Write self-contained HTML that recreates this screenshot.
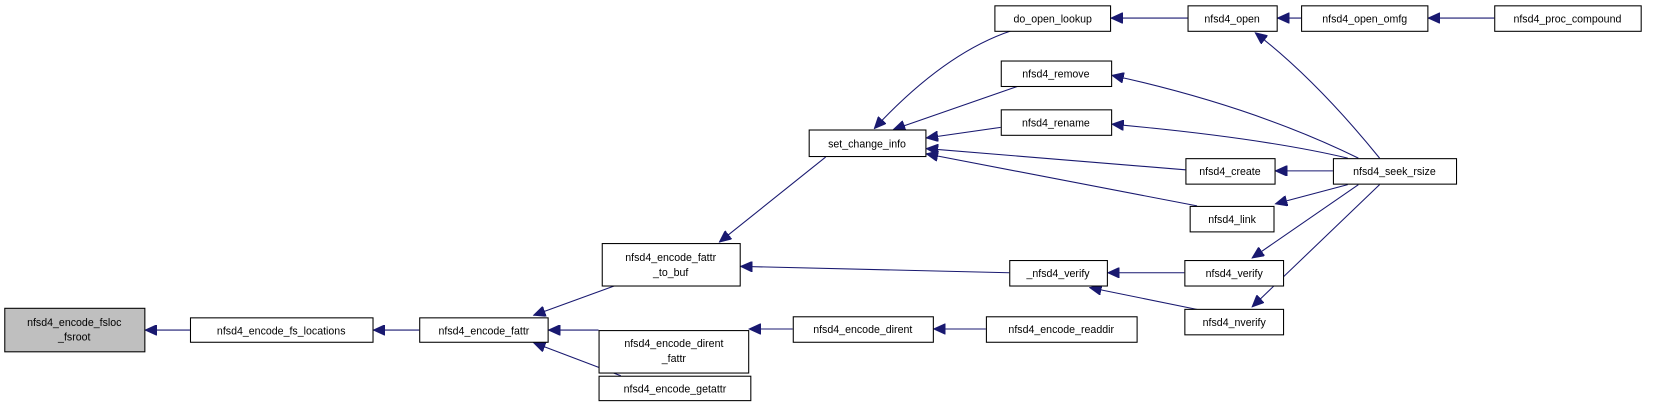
<!DOCTYPE html>
<html><head><meta charset="utf-8"><style>
html,body{margin:0;padding:0;background:#fff;}
svg{display:block;font-family:"Liberation Sans",Arial,sans-serif;font-size:10px;}
rect{fill:#fff;stroke:#000;stroke-width:1;}
path{fill:none;stroke:#191970;stroke-width:1;}
polygon{fill:#191970;stroke:#191970;}
text{text-anchor:middle;fill:#000;}
</style></head><body>
<svg width="1664" height="407" viewBox="0 0 1568 383.5" preserveAspectRatio="none">
<defs><marker id="a" markerWidth="12" markerHeight="10" refX="11" refY="5" orient="auto-start-reverse" markerUnits="userSpaceOnUse"><polygon points="0,0 11,5 0,10"/></marker></defs>
<path d="M137,311 L179,311" marker-start="url(#a)"/>
<path d="M352,311 L395,311" marker-start="url(#a)"/>
<path d="M503,297 L580,269" marker-start="url(#a)"/>
<path d="M517,311 L564,311" marker-start="url(#a)"/>
<path d="M503,323 L585,354" marker-start="url(#a)"/>
<path d="M678,228 L778,148" marker-start="url(#a)"/>
<path d="M698,251 L951,257" marker-start="url(#a)"/>
<path d="M706,310 L747,310" marker-start="url(#a)"/>
<path d="M880,310 L929,310" marker-start="url(#a)"/>
<path d="M824,121 Q890,50 953,29" marker-start="url(#a)"/>
<path d="M842,122 L960,81" marker-start="url(#a)"/>
<path d="M873,130 L943,120" marker-start="url(#a)"/>
<path d="M873,140 L1117,160" marker-start="url(#a)"/>
<path d="M873,145 L1128,194" marker-start="url(#a)"/>
<path d="M1047,17 L1119,17" marker-start="url(#a)"/>
<path d="M1204,17 L1226,17" marker-start="url(#a)"/>
<path d="M1346,17 L1408,17" marker-start="url(#a)"/>
<path d="M1183,31 Q1240,75 1300,149" marker-start="url(#a)"/>
<path d="M1048,71 Q1180,100 1280,149" marker-start="url(#a)"/>
<path d="M1048,117 Q1190,130 1270,149" marker-start="url(#a)"/>
<path d="M1202,161 L1256,161" marker-start="url(#a)"/>
<path d="M1202,192 L1270,174" marker-start="url(#a)"/>
<path d="M1044,257 L1116,257" marker-start="url(#a)"/>
<path d="M1027,271 L1130,292" marker-start="url(#a)"/>
<path d="M1180,243 L1280,174" marker-start="url(#a)"/>
<path d="M1180,289 L1300,174" marker-start="url(#a)"/>
<rect x="4.5" y="290.5" width="132" height="41" style="fill:#bfbfbf"/>
<text x="70" y="307">nfsd4_encode_fsloc</text><text x="70" y="321">_fsroot</text>
<rect x="179.5" y="299.5" width="172" height="23"/><text x="265" y="315">nfsd4_encode_fs_locations</text>
<rect x="395.5" y="299.5" width="121" height="23"/><text x="456" y="315">nfsd4_encode_fattr</text>
<rect x="567.5" y="229.5" width="130" height="40"/><text x="632" y="246">nfsd4_encode_fattr</text><text x="632" y="260">_to_buf</text>
<rect x="564.5" y="311.5" width="141" height="40"/><text x="635" y="327">nfsd4_encode_dirent</text><text x="635" y="341">_fattr</text>
<rect x="564.5" y="354.5" width="143" height="23"/><text x="636" y="370">nfsd4_encode_getattr</text>
<rect x="762.5" y="122.5" width="110" height="25"/><text x="817" y="139">set_change_info</text>
<rect x="937.5" y="5.5" width="109" height="24"/><text x="992" y="21">do_open_lookup</text>
<rect x="943.5" y="57.5" width="104" height="24"/><text x="995" y="73">nfsd4_remove</text>
<rect x="943.5" y="103.5" width="104" height="24"/><text x="995" y="119">nfsd4_rename</text>
<rect x="1119.5" y="5.5" width="84" height="24"/><text x="1161" y="21">nfsd4_open</text>
<rect x="1226.5" y="5.5" width="119" height="24"/><text x="1286" y="21">nfsd4_open_omfg</text>
<rect x="1408.5" y="5.5" width="138" height="24"/><text x="1477" y="21">nfsd4_proc_compound</text>
<rect x="1117.5" y="149.5" width="84" height="24"/><text x="1159" y="165">nfsd4_create</text>
<rect x="1256.5" y="149.5" width="116" height="24"/><text x="1314" y="165">nfsd4_seek_rsize</text>
<rect x="1121.5" y="194.5" width="79" height="24"/><text x="1161" y="210">nfsd4_link</text>
<rect x="951.5" y="245.5" width="92" height="24"/><text x="997" y="261">_nfsd4_verify</text>
<rect x="1116.5" y="245.5" width="93" height="24"/><text x="1163" y="261">nfsd4_verify</text>
<rect x="1116.5" y="291.5" width="93" height="24"/><text x="1163" y="307">nfsd4_nverify</text>
<rect x="747.5" y="298.5" width="132" height="24"/><text x="813" y="314">nfsd4_encode_dirent</text>
<rect x="929.5" y="298.5" width="142" height="24"/><text x="1000" y="314">nfsd4_encode_readdir</text>
</svg>
</body></html>
